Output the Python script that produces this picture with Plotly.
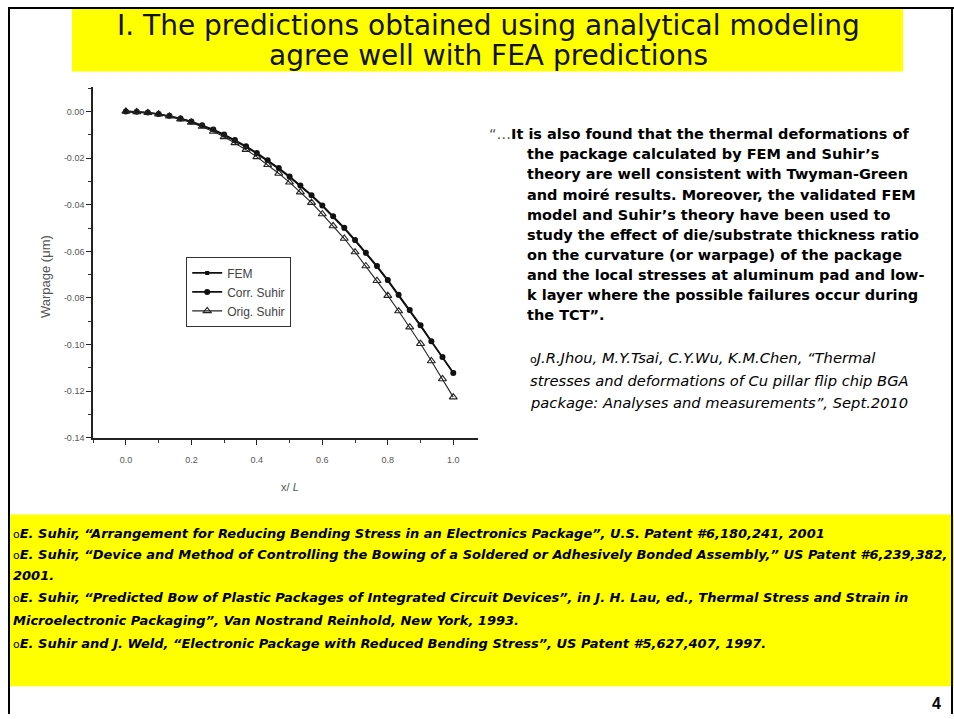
import plotly.graph_objects as go

W, H = 954, 719

# ---------------- data ----------------
x_over_L = [0.000, 0.033, 0.067, 0.100, 0.133, 0.167, 0.200, 0.233, 0.267, 0.300,
            0.333, 0.367, 0.400, 0.433, 0.467, 0.500, 0.533, 0.567, 0.600, 0.633,
            0.667, 0.700, 0.733, 0.767, 0.800, 0.833, 0.867, 0.900, 0.933, 0.967, 1.000]

fem = [0.0000, -0.0002, -0.0006, -0.0012, -0.0020, -0.0031, -0.0045, -0.0061, -0.0080, -0.0102,
       -0.0126, -0.0152, -0.0181, -0.0212, -0.0246, -0.0282, -0.0320, -0.0361, -0.0405, -0.0452,
       -0.0502, -0.0554, -0.0609, -0.0666, -0.0726, -0.0789, -0.0854, -0.0920, -0.0987, -0.1054, -0.1120]

corr_suhir = [0.0000, -0.0001, -0.0005, -0.0011, -0.0019, -0.0030, -0.0043, -0.0059, -0.0078, -0.0099,
              -0.0123, -0.0149, -0.0178, -0.0209, -0.0243, -0.0279, -0.0318, -0.0359, -0.0403, -0.0450,
              -0.0499, -0.0551, -0.0606, -0.0663, -0.0723, -0.0786, -0.0851, -0.0917, -0.0985, -0.1053, -0.1122]

orig_suhir = [0.0000, -0.0002, -0.0006, -0.0012, -0.0021, -0.0033, -0.0047, -0.0065, -0.0086, -0.0109,
              -0.0135, -0.0164, -0.0195, -0.0229, -0.0266, -0.0304, -0.0346, -0.0391, -0.0440, -0.0491,
              -0.0545, -0.0603, -0.0663, -0.0726, -0.0790, -0.0856, -0.0925, -0.0996, -0.1070, -0.1147, -0.1225]

series_names = ["FEM", "Corr. Suhir", "Orig. Suhir"]

x_tick_vals = [0.0, 0.2, 0.4, 0.6, 0.8, 1.0]
x_tick_labels = ["0.0", "0.2", "0.4", "0.6", "0.8", "1.0"]
y_tick_vals = [0.00, -0.02, -0.04, -0.06, -0.08, -0.10, -0.12, -0.14]
y_tick_labels = ["0.00", "-0.02", "-0.04", "-0.06", "-0.08", "-0.10", "-0.12", "-0.14"]

title_lines = ["I. The predictions obtained using analytical modeling",
               "agree well with FEA predictions"]

quote_first = "It is also found that the thermal deformations of"
quote_lines = ["the package calculated by FEM and Suhir’s",
               "theory are well consistent with Twyman-Green",
               "and moiré results. Moreover, the validated FEM",
               "model and Suhir’s theory have been used to",
               "study the effect of die/substrate thickness ratio",
               "on the curvature (or warpage) of the package",
               "and the local stresses at aluminum pad and low-",
               "k layer where the possible failures occur during",
               "the TCT”."]

citation_lines = ["J.R.Jhou, M.Y.Tsai, C.Y.Wu, K.M.Chen, “Thermal",
                  "stresses and deformations of Cu pillar flip chip BGA",
                  "package: Analyses and measurements”, Sept.2010"]

ref_lines = [("o", "E. Suhir, “Arrangement for Reducing Bending Stress in an Electronics Package”, U.S. Patent #6,180,241, 2001"),
             ("o", "E. Suhir, “Device and Method of Controlling the Bowing of a Soldered or Adhesively Bonded Assembly,” US Patent #6,239,382,"),
             ("", "2001."),
             ("o", "E. Suhir, “Predicted Bow of Plastic Packages of Integrated Circuit Devices”, in J. H. Lau, ed., Thermal Stress and Strain in"),
             ("", "Microelectronic Packaging”, Van Nostrand Reinhold, New York, 1993."),
             ("o", "E. Suhir and J. Weld, “Electronic Package with Reduced Bending Stress”, US Patent #5,627,407, 1997.")]

page_number = "4"


def px(x):
    return x / W


def py(y):
    return 1 - y / H


fig = go.Figure()

fig.add_trace(go.Scatter(x=x_over_L, y=fem, name=series_names[0], mode="lines+markers",
                         line=dict(color="#111", width=1.6),
                         marker=dict(symbol="square", size=4, color="#111")))
fig.add_trace(go.Scatter(x=x_over_L, y=corr_suhir, name=series_names[1], mode="lines+markers",
                         line=dict(color="#111", width=1.6),
                         marker=dict(symbol="circle", size=6, color="#111")))
fig.add_trace(go.Scatter(x=x_over_L, y=orig_suhir, name=series_names[2], mode="lines+markers",
                         line=dict(color="#222", width=1.1),
                         marker=dict(symbol="triangle-up-open", size=7, color="#222",
                                     line=dict(width=1.1))))

axis_font = dict(family="Liberation Sans, Arial, sans-serif", size=9, color="#555")

fig.update_xaxes(domain=[px(93), px(478)], range=[-0.1005, 1.0755],
                 showline=True, linecolor="#222", linewidth=1.6, mirror=False,
                 ticks="outside", ticklen=5, tickwidth=1.4, tickcolor="#222",
                 tickvals=x_tick_vals, ticktext=x_tick_labels, tickfont=axis_font,
                 ticklabelstandoff=7,
                 minor=dict(ticks="outside", ticklen=3, tickwidth=1.2, tickcolor="#333",
                            tickmode="linear", tick0=0, dtick=0.1, showgrid=False),
                 showgrid=False, zeroline=False)
fig.update_yaxes(domain=[py(441), py(88)], range=[-0.14, 0.0103],
                 showline=True, linecolor="#222", linewidth=1.6,
                 ticks="outside", ticklen=5, tickwidth=1.4, tickcolor="#222",
                 tickvals=y_tick_vals, ticktext=y_tick_labels, tickfont=axis_font,
                 minor=dict(ticks="outside", ticklen=3, tickwidth=1.2, tickcolor="#333",
                            tickmode="linear", tick0=0, dtick=0.01, showgrid=False),
                 showgrid=False, zeroline=False)

shapes = []
# slide border
shapes.append(dict(type="line", xref="paper", yref="paper", x0=px(8), x1=px(954), y0=py(8), y1=py(8),
                   line=dict(color="black", width=2)))
shapes.append(dict(type="line", xref="paper", yref="paper", x0=px(9), x1=px(9), y0=py(8), y1=py(719),
                   line=dict(color="black", width=2)))
shapes.append(dict(type="line", xref="paper", yref="paper", x0=px(952), x1=px(952), y0=py(8), y1=py(719),
                   line=dict(color="black", width=2)))
# yellow boxes
shapes.append(dict(type="rect", xref="paper", yref="paper", x0=px(72), x1=px(903), y0=py(72), y1=py(9),
                   fillcolor="#ffff00", line=dict(width=0), layer="below"))
shapes.append(dict(type="rect", xref="paper", yref="paper", x0=px(10), x1=px(954), y0=py(691), y1=py(518),
                   fillcolor="#ffff00", line=dict(width=0), layer="below"))

annotations = []


def add_text(text, x, y, size, family, xanchor="left", color="black", angle=0):
    annotations.append(dict(text=text, x=px(x), y=py(y), xref="paper", yref="paper",
                            xanchor=xanchor, yanchor="middle", showarrow=False,
                            textangle=angle, font=dict(family=family, size=size, color=color)))


sans = "DejaVu Sans, Verdana, sans-serif"
arial = "Liberation Sans, Arial, sans-serif"

add_text(title_lines[0], 488, 26, 28, sans, xanchor="center", color="#111")
add_text(title_lines[1], 488, 56, 28, sans, xanchor="center", color="#111")

add_text("<span style='color:#555'>“…</span><b>" + quote_first + "</b>", 487, 135, 14.5, sans)
for i, line in enumerate(quote_lines):
    add_text("<b>" + line + "</b>", 525, 155.3 + 20.3 * i, 14.5, sans)

citation_y = [360, 383, 405]
for i, line in enumerate(citation_lines):
    prefix = "<span style='font-size:11px'>o</span>" if i == 0 else ""
    add_text(prefix + "<i>" + line + "</i>", 528, citation_y[i], 14.7, sans)

ref_y = [537, 558, 580, 602, 625, 648]
for (bullet, line), yy in zip(ref_lines, ref_y):
    prefix = "<span style='font-size:11px'>o</span>" if bullet else ""
    add_text(prefix + "<b><i>" + line + "</i></b>", 11, yy, 13, sans)

add_text("<b>" + page_number + "</b>", 936, 708, 16, arial, xanchor="center")

# axis titles
add_text("Warpage (μm)", 45, 279, 13, arial, xanchor="center", color="#555", angle=-90)
add_text("x/ <i>L</i>", 290, 490, 11, arial, xanchor="center", color="#555")

fig.update_layout(width=W, height=H, margin=dict(l=0, r=0, t=0, b=0),
                  paper_bgcolor="white", plot_bgcolor="white",
                  shapes=shapes, annotations=annotations,
                  showlegend=True,
                  legend=dict(x=px(186), y=py(259), xanchor="left", yanchor="top",
                              bordercolor="#333", borderwidth=1.2, bgcolor="white",
                              font=dict(family=arial, size=12, color="#444"),
                              itemwidth=30, tracegroupgap=0))

fig.write_html("out.html", config={"displayModeBar": False},
               post_script="document.body.style.margin='0';document.body.style.overflow='hidden';")
